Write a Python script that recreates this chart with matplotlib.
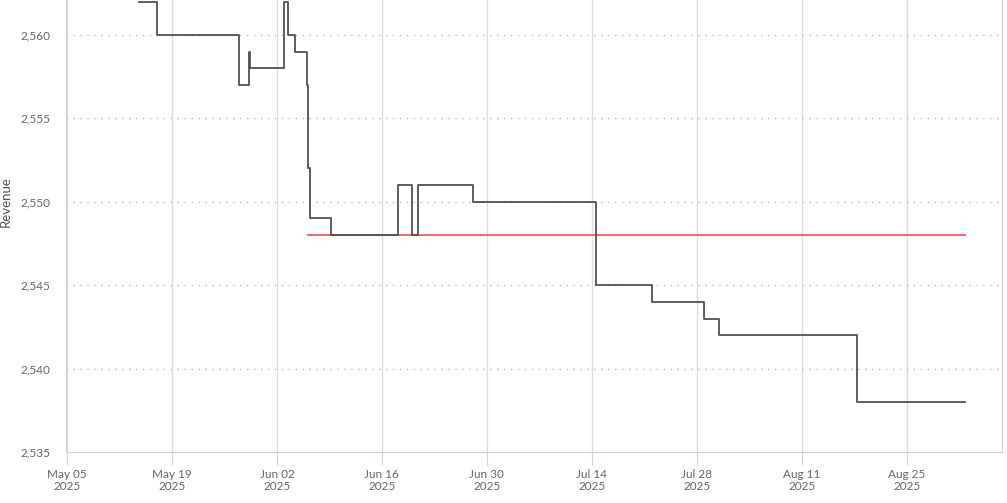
import matplotlib.pyplot as plt
import matplotlib.dates as mdates
from matplotlib.ticker import FuncFormatter
import pandas as pd

# step changes of revenue (value holds until next timestamp)
change_times = ["2025-05-14 14:00", "2025-05-17 00:00", "2025-05-27 22:00",
                "2025-05-29 06:00", "2025-05-29 09:00", "2025-06-02 22:00",
                "2025-06-03 11:00", "2025-06-04 10:00", "2025-06-06 00:00",
                "2025-06-06 05:00", "2025-06-06 09:00", "2025-06-09 05:00",
                "2025-06-18 03:00", "2025-06-20 00:00", "2025-06-20 19:00",
                "2025-06-28 03:00", "2025-07-14 13:00", "2025-07-22 00:00",
                "2025-07-28 22:00", "2025-07-30 22:00", "2025-08-18 08:00",
                "2025-08-18 10:00", "2025-09-01 17:00"]
revenue = [2562, 2560, 2557, 2559, 2558, 2562, 2560, 2559, 2557, 2552,
           2549, 2548, 2551, 2548, 2551, 2550, 2545, 2544, 2543, 2542,
           2539, 2538, 2538]

target_times = ["2025-06-06 03:00", "2025-09-01 17:00"]
target = [2548, 2548]

tick_dates = pd.date_range("2025-05-05", "2025-08-25", freq="14D")

x = pd.to_datetime(change_times)
xt = pd.to_datetime(target_times)

plt.rcParams['font.family'] = ['Lato', 'DejaVu Sans']
fig = plt.figure(figsize=(10.07, 5.03), dpi=100)
ax = fig.add_axes([66/1007, 51/503, 936/1007, 452/503])

ax.step(x, revenue, where='post', color='#505050', lw=1.3, zorder=3)
ax.plot(xt, target, color='#e8605f', lw=1.3, zorder=2)

ax.set_xlim(pd.Timestamp("2025-05-04 21:00"), pd.Timestamp("2025-09-06 17:00"))
ax.set_ylim(2535, 2562.1)
ax.set_yticks(range(2535, 2561, 5))
ax.yaxis.set_major_formatter(FuncFormatter(lambda v, p: f"{int(v):,}"))
ax.set_xticks(tick_dates)
ax.xaxis.set_major_formatter(mdates.DateFormatter("%b %d\n%Y"))

ax.grid(axis='x', color='#d9dce3', lw=1)
ax.grid(axis='y', color='#bbbbbb', lw=1, linestyle=(0, (1, 4)))
ax.set_axisbelow(True)

for s in ['left', 'bottom', 'right']:
    ax.spines[s].set_color('#ccd1da')
ax.spines['top'].set_visible(False)
ax.tick_params(axis='y', length=0, pad=11, labelsize=8.5, labelcolor='#666666')
ax.tick_params(axis='x', length=9, color='#ccd6e6', pad=3, labelsize=8.5,
               labelcolor='#666666')
ax.set_ylabel("Revenue", fontsize=9.5, color='#555555')
ax.yaxis.set_label_coords(-0.058, 0.553)

fig.savefig("out.png", dpi=100)
